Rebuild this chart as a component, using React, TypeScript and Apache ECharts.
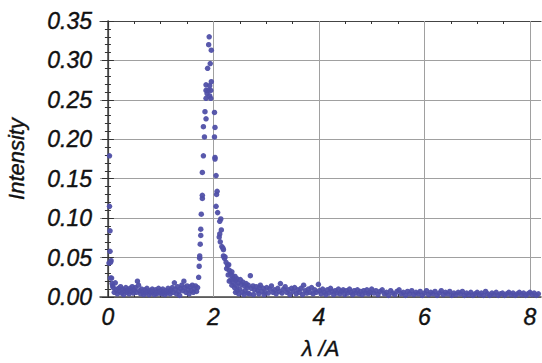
import React, { useEffect, useRef } from "react";
import * as echarts from "echarts";

const xMajorTicks = [0, 2, 4, 6, 8];
const xMinorTicks = [0.5, 1, 1.5, 2.5, 3, 3.5, 4.5, 5, 5.5, 6.5, 7, 7.5];
const xGridLines = [2, 4, 6, 8];

const spikePoints = [
  [0.03, 0.179], [0.03, 0.115], [0.04, 0.084], [0.04, 0.058], [0.02, 0.043], [0.06, 0.046],
  [0.05, 0.044], [0.07, 0.024], [0.08, 0.017], [0.09, 0.014], [0.05, 0.024],
];

const basePoints = [
  [0.10, 0.012], [0.12, 0.006], [0.14, 0.018], [0.16, 0.009], [0.18, 0.004], [0.20, 0.011],
  [0.22, 0.007], [0.24, 0.013], [0.26, 0.005], [0.28, 0.010], [0.30, 0.003], [0.32, 0.008],
  [0.34, 0.012], [0.36, 0.006], [0.38, 0.009], [0.40, 0.004], [0.42, 0.011], [0.44, 0.007],
  [0.46, 0.013], [0.48, 0.005], [0.50, 0.009], [0.52, 0.012], [0.54, 0.006], [0.56, 0.020],
  [0.58, 0.015], [0.60, 0.008], [0.62, 0.004], [0.64, 0.010], [0.66, 0.006], [0.68, 0.003],
  [0.70, 0.009], [0.72, 0.005], [0.74, 0.011], [0.76, 0.007], [0.78, 0.003], [0.80, 0.008],
  [0.82, 0.005], [0.84, 0.010], [0.86, 0.006], [0.88, 0.003], [0.90, 0.009], [0.92, 0.004],
  [0.94, 0.007], [0.96, 0.011], [0.98, 0.005], [1.00, 0.008], [1.02, 0.004], [1.04, 0.010],
  [1.06, 0.006], [1.08, 0.003], [1.10, 0.008], [1.12, 0.005], [1.14, 0.011], [1.16, 0.007],
  [1.18, 0.004], [1.20, 0.009], [1.22, 0.012], [1.24, 0.006], [1.26, 0.018], [1.28, 0.010],
  [1.30, 0.004], [1.32, 0.013], [1.34, 0.007], [1.36, 0.002], [1.38, 0.011], [1.40, 0.015],
  [1.42, 0.008], [1.44, 0.020], [1.46, 0.012], [1.48, 0.006], [1.50, 0.014], [1.52, 0.009],
  [1.54, 0.004], [1.56, 0.013], [1.58, 0.008], [1.60, 0.015], [1.62, 0.006], [1.64, 0.011],
  [1.66, 0.014], [1.68, 0.007], [1.70, 0.012],
];

const peakPoints = [
  [1.72, 0.025], [1.73, 0.039], [1.74, 0.049], [1.74, 0.052], [1.75, 0.067], [1.76, 0.078],
  [1.76, 0.086], [1.77, 0.105], [1.79, 0.125], [1.79, 0.129], [1.79, 0.158], [1.81, 0.179],
  [1.81, 0.216], [1.83, 0.203], [1.84, 0.235], [1.86, 0.226], [1.86, 0.252], [1.86, 0.262],
  [1.86, 0.269], [1.88, 0.258], [1.89, 0.290], [1.90, 0.262], [1.91, 0.320], [1.92, 0.330],
  [1.93, 0.268], [1.93, 0.255], [1.94, 0.296], [1.95, 0.262], [1.96, 0.313], [1.96, 0.273],
  [1.95, 0.252],
  [2.02, 0.234], [2.03, 0.215], [2.02, 0.203], [2.03, 0.177], [2.03, 0.175], [2.05, 0.154],
  [2.07, 0.134], [2.06, 0.130], [2.05, 0.115], [2.08, 0.107], [2.14, 0.099], [2.12, 0.096],
  [2.11, 0.076], [2.12, 0.080], [2.15, 0.085], [2.13, 0.070], [2.16, 0.064], [2.18, 0.062],
  [2.19, 0.060], [2.19, 0.052], [2.21, 0.049], [2.22, 0.051], [2.24, 0.044], [2.25, 0.036],
  [2.27, 0.040], [2.29, 0.041], [2.30, 0.034], [2.32, 0.030], [2.35, 0.032], [2.36, 0.027],
  [2.38, 0.024], [2.41, 0.026], [2.42, 0.021], [2.45, 0.023], [2.47, 0.018], [2.51, 0.022],
  [2.53, 0.016], [2.56, 0.019], [2.59, 0.014], [2.62, 0.017], [2.64, 0.012], [2.66, 0.015],
  [2.70, 0.027], [2.72, 0.011], [2.75, 0.014], [2.78, 0.009], [2.81, 0.013], [2.84, 0.008],
  [2.87, 0.012], [2.89, 0.015], [2.92, 0.007], [2.95, 0.011], [2.98, 0.006],
  [2.30, 0.020], [2.35, 0.015], [2.40, 0.012], [2.45, 0.008], [2.50, 0.010], [2.55, 0.006],
  [2.60, 0.008], [2.65, 0.005], [2.42, 0.006], [2.48, 0.004], [2.58, 0.003], [2.68, 0.004],
  [2.76, 0.003], [2.86, 0.004], [2.96, 0.003], [2.28, 0.028], [2.33, 0.022], [2.38, 0.018],
  [2.44, 0.014],
];

const tailPoints = [
  [3.01, 0.012], [3.04, 0.005], [3.07, 0.010], [3.10, 0.014], [3.13, 0.006], [3.16, 0.009],
  [3.19, 0.004], [3.22, 0.011], [3.25, 0.007], [3.27, 0.017], [3.30, 0.005], [3.33, 0.010],
  [3.36, 0.013], [3.39, 0.006], [3.42, 0.009], [3.45, 0.003], [3.48, 0.011], [3.51, 0.007],
  [3.54, 0.012], [3.57, 0.004], [3.60, 0.009], [3.63, 0.006], [3.66, 0.011], [3.69, 0.003],
  [3.71, 0.015], [3.74, 0.008], [3.77, 0.005], [3.80, 0.010], [3.83, 0.006], [3.86, 0.012],
  [3.89, 0.004], [3.92, 0.009], [3.95, 0.006], [3.99, 0.016], [4.01, 0.008], [4.04, 0.004],
  [4.07, 0.010], [4.10, 0.006], [4.13, 0.003], [4.16, 0.009], [4.19, 0.005], [4.22, 0.011],
  [4.25, 0.007], [4.28, 0.003], [4.31, 0.008], [4.34, 0.005], [4.37, 0.010], [4.40, 0.004],
  [4.43, 0.007], [4.46, 0.009], [4.49, 0.003], [4.52, 0.008], [4.55, 0.005], [4.58, 0.010],
  [4.61, 0.006], [4.64, 0.003], [4.67, 0.008], [4.70, 0.005], [4.73, 0.009], [4.76, 0.004],
  [4.79, 0.007], [4.82, 0.003], [4.85, 0.008], [4.88, 0.005], [4.91, 0.009], [4.94, 0.004],
  [4.97, 0.006], [5.00, 0.010], [5.04, 0.005], [5.08, 0.008], [5.12, 0.003], [5.16, 0.007],
  [5.20, 0.009], [5.24, 0.004], [5.28, 0.006], [5.32, 0.002], [5.36, 0.008], [5.40, 0.005],
  [5.44, 0.003], [5.48, 0.007], [5.52, 0.009], [5.56, 0.004], [5.60, 0.006], [5.64, 0.002],
  [5.68, 0.007], [5.72, 0.004], [5.76, 0.008], [5.80, 0.003], [5.84, 0.006], [5.88, 0.004],
  [5.92, 0.007], [5.96, 0.002], [6.00, 0.005], [6.04, 0.008], [6.08, 0.003], [6.12, 0.006],
  [6.16, 0.004], [6.20, 0.007], [6.24, 0.002], [6.28, 0.005], [6.32, 0.008], [6.36, 0.003],
  [6.40, 0.006], [6.44, 0.004], [6.48, 0.007], [6.52, 0.002], [6.56, 0.005], [6.60, 0.003],
  [6.64, 0.006], [6.68, 0.004], [6.72, 0.007], [6.76, 0.002], [6.80, 0.005], [6.84, 0.003],
  [6.88, 0.006], [6.92, 0.002], [6.96, 0.004], [7.00, 0.006], [7.04, 0.003], [7.08, 0.005],
  [7.12, 0.002], [7.16, 0.007], [7.20, 0.004], [7.24, 0.002], [7.28, 0.005], [7.32, 0.003],
  [7.36, 0.006], [7.40, 0.002], [7.44, 0.004], [7.48, 0.005], [7.52, 0.002], [7.56, 0.004],
  [7.60, 0.006], [7.64, 0.003], [7.68, 0.005], [7.72, 0.002], [7.76, 0.004], [7.80, 0.006],
  [7.84, 0.003], [7.88, 0.005], [7.92, 0.002], [7.96, 0.004], [8.00, 0.006], [8.04, 0.003],
  [8.08, 0.005], [8.12, 0.002], [8.16, 0.004],
];

const X_MIN = -0.15;
const X_MAX = 8.21;
const Y_MIN = 0;
const Y_MAX = 0.35;
const Y_STEP = 0.05;

export default function App() {
  const ref = useRef<HTMLDivElement>(null);
  useEffect(() => {
    document.body.style.margin = "0";
    const chart = echarts.init(ref.current!, null, { renderer: "svg" });
    const font = "'Liberation Sans', Arial, Helvetica, sans-serif";
    const frameColor = "#444";
    const tickStyle = { color: "#333", width: 1 };
    const labelText = {
      fontFamily: font,
      fontStyle: "italic",
      fontSize: 23,
      color: "#111",
      textBorderColor: "#111",
      textBorderWidth: 0.4,
    };
    const baseX = {
      type: "value" as const,
      min: X_MIN,
      max: X_MAX,
      splitLine: { show: false },
    };
    const allPoints = [...spikePoints, ...basePoints, ...peakPoints, ...tailPoints];
    chart.setOption({
      animation: false,
      backgroundColor: "#fff",
      grid: {
        left: 100,
        right: 1,
        top: 21,
        bottom: 66,
        show: false,
        containLabel: false,
        outerBoundsMode: "none",
      },
      xAxis: [
        {
          ...baseX,
          position: "bottom",
          name: "λ /A",
          nameLocation: "middle",
          nameGap: 40,
          nameTextStyle: { ...labelText, fontSize: 22 },
          axisLine: { show: true, lineStyle: { color: frameColor, width: 1.5 } },
          axisTick: { show: true, inside: true, length: 6, customValues: xMajorTicks, lineStyle: tickStyle },
          axisLabel: { customValues: xMajorTicks, margin: 8, ...labelText },
        },
        {
          ...baseX,
          position: "bottom",
          axisLine: { show: false },
          axisTick: { show: true, inside: true, length: 3, customValues: xMinorTicks, lineStyle: tickStyle },
          axisLabel: { show: false },
        },
        {
          ...baseX,
          position: "top",
          axisLine: { show: true, lineStyle: { color: frameColor, width: 1.2 } },
          axisTick: { show: true, inside: true, length: 6, customValues: xMajorTicks, lineStyle: tickStyle },
          axisLabel: { show: false },
        },
        {
          ...baseX,
          position: "top",
          axisLine: { show: false },
          axisTick: { show: true, inside: true, length: 3, customValues: xMinorTicks, lineStyle: tickStyle },
          axisLabel: { show: false },
        },
      ],
      yAxis: [
        {
          type: "value",
          position: "left",
          min: Y_MIN,
          max: Y_MAX,
          interval: Y_STEP,
          name: "Intensity",
          nameLocation: "middle",
          nameGap: 73,
          nameTextStyle: { ...labelText, fontSize: 22 },
          axisLine: { show: true, lineStyle: { color: frameColor, width: 1.5 } },
          axisTick: { show: true, inside: true, length: 6, lineStyle: tickStyle },
          minorTick: { show: true, splitNumber: 5, length: 3, lineStyle: tickStyle },
          splitLine: { show: true, lineStyle: { color: "#a0a0a0", width: 1 } },
          axisLabel: {
            margin: 8,
            ...labelText,
            formatter: (v: number) => v.toFixed(2),
          },
        },
        {
          type: "value",
          position: "right",
          min: Y_MIN,
          max: Y_MAX,
          interval: Y_STEP,
          axisLine: { show: true, lineStyle: { color: frameColor, width: 1.2 } },
          axisTick: { show: true, inside: true, length: 6, lineStyle: tickStyle },
          minorTick: { show: true, splitNumber: 5, length: 3, lineStyle: tickStyle },
          splitLine: { show: false },
          axisLabel: { show: false },
        },
      ],
      series: [
        {
          type: "scatter",
          xAxisIndex: 0,
          yAxisIndex: 0,
          data: allPoints,
          symbol: "circle",
          symbolSize: 5.5,
          itemStyle: { color: "#5050A8", opacity: 0.95 },
          z: 3,
          markLine: {
            silent: true,
            z: 1,
            symbol: ["none", "none"],
            label: { show: false },
            lineStyle: { color: "#a0a0a0", type: "solid", width: 1 },
            data: xGridLines.map((v) => ({ xAxis: v })),
          },
        },
      ],
    });
    return () => chart.dispose();
  }, []);
  return <div ref={ref} style={{ width: 542, height: 363 }} />;
}
